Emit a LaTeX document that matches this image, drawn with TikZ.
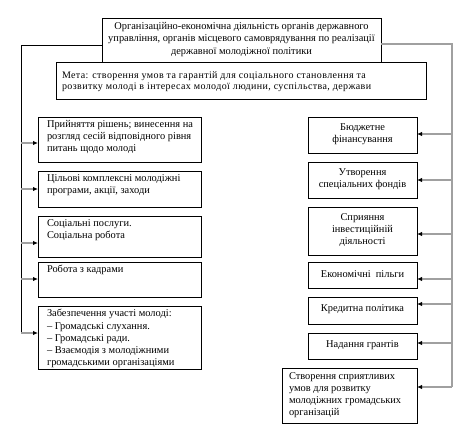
\documentclass[tikz,border=0pt]{standalone}
\usepackage{fontspec}
\setmainfont{Liberation Serif}
\newfontfamily\spacedfont[LetterSpace=4]{Liberation Serif}
\usetikzlibrary{arrows.meta}
\definecolor{conngray}{RGB}{160,160,160}
\tikzset{
  box/.style={draw=black, line width=0.8pt, inner sep=0pt, outer sep=0pt, font=\fontsize{10.4}{12.1}\selectfont},
  conn/.style={draw=conngray, line width=1.3pt, -{Latex[black,length=5pt,width=4.5pt]}},
  trunk/.style={draw=black, line width=0.8pt},
  rtrunk/.style={draw=conngray, line width=1.3pt},
}
\newcommand{\tbox}[3]{\parbox[c][#2pt][t]{#1pt}{\raggedright\vspace*{3.5pt}#3}}
\newcommand{\cbox}[3]{\parbox[c][#2pt][c]{#1pt}{\centering #3\par\vspace{2pt}}}
\begin{document}
\begin{tikzpicture}[x=1pt,y=-1pt]
\useasboundingbox (0,0) rectangle (473,425);
% top boxes
\node[box, anchor=north west] (top) at (102,18)
  {\parbox[c][44pt][c]{279pt}{\centering Організаційно-економічна діяльність органів державного\\ управління, органів місцевого самоврядування по реалізації\\ державної молодіжної політики\par\vspace{1pt}}};
\node[box, anchor=north west] (meta) at (56,62)
  {\parbox[c][37pt][c]{370pt}{\fontsize{10}{11}\selectfont\vspace*{3pt}\hspace*{6pt}{\spacedfont Мета: створення умов та гарантій для соціального становлення та}\\ \hspace*{6pt}{\spacedfont розвитку молоді в інтересах молодої людини, суспільства, держави}}};
% left boxes
\node[box, anchor=north west] (l1) at (38,117)
  {\hspace*{9pt}\tbox{150}{45}{Прийняття рішень; винесення на\\ розгляд сесій відповідного рівня\\ питань щодо молоді}\hspace*{4pt}};
\node[box, anchor=north west] (l2) at (38,171)
  {\hspace*{9pt}\tbox{150}{36}{Цільові комплексні молодіжні\\ програми, акції, заходи}\hspace*{4pt}};
\node[box, anchor=north west] (l3) at (38,216)
  {\hspace*{9pt}\tbox{150}{41}{Соціальні послуги.\\ Соціальна робота}\hspace*{4pt}};
\node[box, anchor=north west] (l4) at (38,262)
  {\hspace*{9pt}\tbox{150}{35}{Робота з кадрами}\hspace*{4pt}};
\node[box, anchor=north west] (l5) at (38,306)
  {\hspace*{9pt}\tbox{150}{63}{Забезпечення участі молоді:\\ – Громадські слухання.\\ – Громадські ради.\\ – Взаємодія з молодіжними\\ громадськими організаціями}\hspace*{4pt}};
% right boxes
\node[box, anchor=north west] (r1) at (308,117) {\cbox{109}{36}{Бюджетне\\ фінансування}};
\node[box, anchor=north west] (r2) at (308,162) {\cbox{109}{36}{Утворення\\ спеціальних фондів}};
\node[box, anchor=north west] (r3) at (308,207) {\cbox{109}{48}{Сприяння\\ інвестиційній\\ діяльності}};
\node[box, anchor=north west] (r4) at (308,262) {\cbox{109}{26}{Економічні\ \ пільги}};
\node[box, anchor=north west] (r5) at (308,297) {\cbox{109}{27}{Кредитна політика}};
\node[box, anchor=north west] (r6) at (308,333) {\cbox{109}{26}{Надання грантів}};
\node[box, anchor=north west] (r7) at (282,368)
  {\hspace*{7pt}\parbox[c][55pt][c]{124pt}{\raggedright Створення сприятливих\\ умов для розвитку\\ молодіжних громадських\\ організацій}\hspace*{4pt}};
% trunks
\coordinate (lt) at (21,45);
\coordinate (lb) at (21,333);
\coordinate (rt) at (452,44);
\coordinate (rb) at (452,387);
\draw[trunk] (top.west |- lt) -- (lt) -- (lb);
\draw[rtrunk] (top.east |- rt) -- (rt) -- (rb);
% left connectors
\foreach \n/\y in {l1/143, l2/189, l3/243, l4/279, l5/333}{
  \coordinate (c\n) at (21,\y);
  \draw[conn] (c\n) -- (\n.west |- c\n);
}
\foreach \n/\y in {r1/134, r2/180, r3/234, r4/279, r5/304, r6/343, r7/387}{
  \coordinate (c\n) at (452,\y);
  \draw[conn] (c\n) -- (\n.east |- c\n);
}
\end{tikzpicture}
\end{document}
